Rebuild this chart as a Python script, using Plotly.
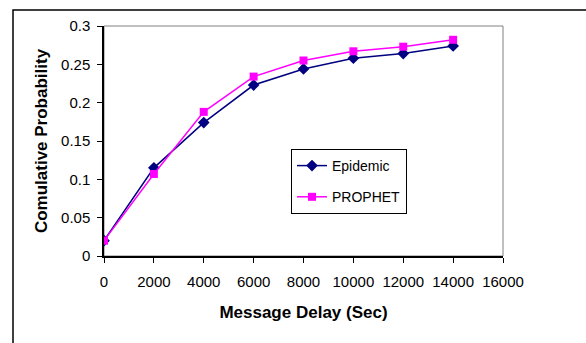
import plotly.graph_objects as go

delay = [0, 2000, 4000, 6000, 8000, 10000, 12000, 14000]
epidemic = [0.020, 0.115, 0.174, 0.223, 0.244, 0.258, 0.264, 0.274]
prophet = [0.020, 0.107, 0.188, 0.234, 0.255, 0.267, 0.273, 0.282]
x_ticks = [0, 2000, 4000, 6000, 8000, 10000, 12000, 14000, 16000]
x_tick_text = ["0", "2000", "4000", "6000", "8000", "10000", "12000", "14000", "16000"]
y_ticks = [0, 0.05, 0.1, 0.15, 0.2, 0.25, 0.3]
y_tick_text = ["0", "0.05", "0.1", "0.15", "0.2", "0.25", "0.3"]

W, H = 586, 343
L, R, T, B = 104, 83, 26, 87
pw, ph = W - L - R, H - T - B

fig = go.Figure()
fig.add_trace(go.Scatter(x=delay, y=epidemic, name="Epidemic", mode="lines+markers",
                         line=dict(color="#000080", width=1.5),
                         marker=dict(symbol="diamond", size=9, color="#000080"),
                         legendgroup="a"))
fig.add_trace(go.Scatter(x=delay, y=prophet, name="PROPHET", mode="lines+markers",
                         line=dict(color="#FF00FF", width=1.5),
                         marker=dict(symbol="square", size=8, color="#FF00FF"),
                         legendgroup="b"))

def px_x(p):
    return (p - L) / pw

def px_y(p):
    return (H - B - p) / ph

fig.update_layout(
    width=W, height=H,
    margin=dict(l=L, r=R, t=T, b=B),
    paper_bgcolor="white", plot_bgcolor="white",
    font=dict(family="Arial, Liberation Sans, sans-serif", size=15, color="black"),
    xaxis=dict(range=[0, 16000], tickvals=x_ticks, ticktext=x_tick_text, ticks="outside", ticklen=5,
               tickcolor="black", showline=True, linecolor="black", linewidth=1.5,
               showgrid=False, zeroline=False, ticklabelstandoff=6,
               title=dict(text="<b>Message Delay (Sec)</b>", font=dict(size=17), standoff=17)),
    yaxis=dict(range=[0, 0.3], tickvals=y_ticks, ticktext=y_tick_text, ticks="outside",
               ticklen=5, tickcolor="black", showline=True, linecolor="black", linewidth=1.5,
               showgrid=False, zeroline=False, ticklabelstandoff=4,
               title=dict(text="<b>Comulative Probability</b>", font=dict(size=17), standoff=9)),
    legend=dict(x=px_x(291), y=px_y(149), xanchor="left", yanchor="top",
                bgcolor="white", bordercolor="black", borderwidth=1,
                font=dict(size=14), traceorder="grouped", tracegroupgap=10),
    shapes=[
        dict(type="rect", xref="paper", yref="paper", x0=0, x1=1, y0=0, y1=1,
             line=dict(color="#808080", width=1), layer="below"),
        dict(type="rect", xref="paper", yref="paper",
             x0=px_x(13), x1=px_x(600), y0=px_y(360), y1=px_y(10),
             line=dict(color="black", width=1.5), layer="below"),
    ],
)

fig.write_html("out.html")
